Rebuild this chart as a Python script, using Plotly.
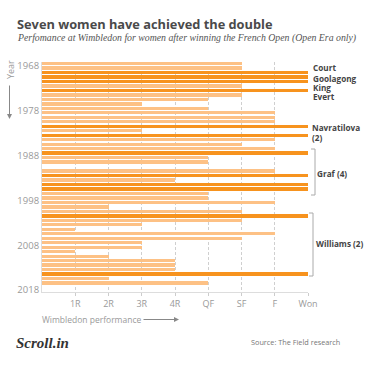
import plotly.graph_objects as go

# ---- data ----
years = list(range(1968, 2018))
# Wimbledon result after winning French Open: 0=did not play,1=1R,2=2R,3=3R,4=4R,5=QF,6=SF,7=F,8=Won
results = [6, 6, 8, 8, 8, 6, 8, 6, 5, 3,
           5, 7, 7, 7, 8, 3, 8, 7, 6, 7,
           8, 5, 5, 0, 7, 8, 4, 8, 8, 5,
           5, 7, 2, 6, 8, 6, 3, 1, 7, 6,
           3, 3, 1, 2, 4, 4, 4, 8, 2, 5]
tick_vals = [1, 2, 3, 4, 5, 6, 7, 8]
tick_text = ["1R", "2R", "3R", "4R", "QF", "SF", "F", "Won"]
year_ticks = [1968, 1978, 1988, 1998, 2008, 2018]
names = ["Court", "Goolagong", "King", "Evert", "Navratilova", "(2)", "Graf (4)", "Williams (2)"]

DARK = "#F7931E"
LIGHT = "#FDC185"
colors = [DARK if r == 8 else LIGHT for r in results]

W, H = 367, 367
PX0, PX1, PY0, PY1 = 42, 308, 62, 292


def pxx(x):
    return (x - PX0) / (PX1 - PX0)


def pyy(y):
    return (PY1 - y) / (PY1 - PY0)


BAR_OFFSET = -0.55
fig = go.Figure(go.Bar(
    x=results,
    y=[y + BAR_OFFSET for y in years],
    orientation="h",
    width=0.74,
    marker=dict(color=colors, line=dict(width=0)),
    hoverinfo="skip",
))

gray = "#9a9a9a"
fig.update_layout(
    width=W, height=H,
    margin=dict(l=PX0, r=W - PX1, t=PY0, b=H - PY1),
    plot_bgcolor="white", paper_bgcolor="white",
    showlegend=False,
    bargap=0,
    font=dict(family="Open Sans", color=gray),
    xaxis=dict(
        range=[0, 8], tickvals=tick_vals, ticktext=tick_text,
        showgrid=True, gridcolor="#cfcfcf", griddash="3px,2px", gridwidth=1,
        showline=True, linecolor="#dddddd", linewidth=1,
        ticks="outside", ticklen=3, tickcolor="#cccccc",
        tickfont=dict(size=9, color=gray, family="Open Sans"),
        zeroline=False, layer="above traces", fixedrange=True,
    ),
    yaxis=dict(
        range=[2018 + 2 / 4.48, 1968 - 4 / 4.48],
        tickvals=year_ticks, ticktext=[str(y) for y in year_ticks],
        showgrid=False, zeroline=False,
        showline=True, linecolor="#dddddd", linewidth=1,
        ticks="", tickfont=dict(size=9.5, color=gray, family="Open Sans"),
        fixedrange=True,
    ),
)

ann = []
# title and subtitle
ann.append(dict(text="<b>Seven women have achieved the double</b>", x=pxx(15), y=pyy(24),
                font=dict(family="Open Sans", size=12.8, color="#4a4a4a"), xanchor="left", yanchor="middle"))
ann.append(dict(text="<i>Perfomance at Wimbledon for women after winning the French Open (Open Era only)</i>",
                x=pxx(15), y=pyy(38), font=dict(family="Liberation Serif", size=9.8, color="#555555"),
                xanchor="left", yanchor="middle"))
# player labels
label_pos = [(312, 68), (312, 78), (312, 87), (312, 96), (311, 127), (311, 137), (316, 173), (315, 243)]
for name, (lx, ly) in zip(names, label_pos):
    ann.append(dict(text="<b>" + name + "</b>", x=pxx(lx), y=pyy(ly), xanchor="left", yanchor="middle",
                    borderpad=0, font=dict(family="Open Sans", size=8.2, color="#444444")))
# axis titles
ann.append(dict(text="Year", x=pxx(10), y=pyy(70), textangle=-90, xanchor="center", yanchor="middle",
                font=dict(family="Open Sans", size=9, color=gray)))
ann.append(dict(text="", x=pxx(9.5), y=pyy(119), ax=0, ay=-35, showarrow=True, arrowhead=2,
                arrowsize=1, arrowwidth=1, arrowcolor="#888888"))
ann.append(dict(text="Wimbledon performance", x=pxx(40), y=pyy(319.5), xanchor="left", yanchor="middle",
                font=dict(family="Open Sans", size=8.5, color=gray)))
ann.append(dict(text="", x=pxx(179), y=pyy(319.5), ax=-37, ay=0, showarrow=True, arrowhead=2,
                arrowsize=1, arrowwidth=1, arrowcolor="#888888"))
# footer
ann.append(dict(text="<b><i>Scroll.in</i></b>", x=pxx(14), y=pyy(342.5), xanchor="left", yanchor="middle",
                font=dict(family="Liberation Serif", size=15, color="#333333")))
ann.append(dict(text="Source: The Field research", x=pxx(342), y=pyy(341.5), xanchor="right",
                yanchor="middle", font=dict(family="Open Sans", size=7.3, color="#777777")))
for a in ann:
    a.setdefault("showarrow", False)
    a["xref"] = "paper"
    a["yref"] = "paper"
    if a.get("showarrow"):
        a["axref"] = "pixel"
        a["ayref"] = "pixel"
fig.update_layout(annotations=ann)

# brackets
shapes = []
for (bx, top, bot) in [(315, 149, 195), (313, 213, 276)]:
    for (x0, y0, x1, y1) in [(bx, top, bx, bot), (bx - 4, top, bx, top), (bx - 4, bot, bx, bot)]:
        shapes.append(dict(type="line", xref="paper", yref="paper",
                           x0=pxx(x0), y0=pyy(y0), x1=pxx(x1), y1=pyy(y1),
                           line=dict(color="#aaaaaa", width=1)))
fig.update_layout(shapes=shapes)

fig.write_html("out.html", config={"displayModeBar": False},
               post_script="document.body.style.margin='0';document.body.style.overflow='hidden';")
